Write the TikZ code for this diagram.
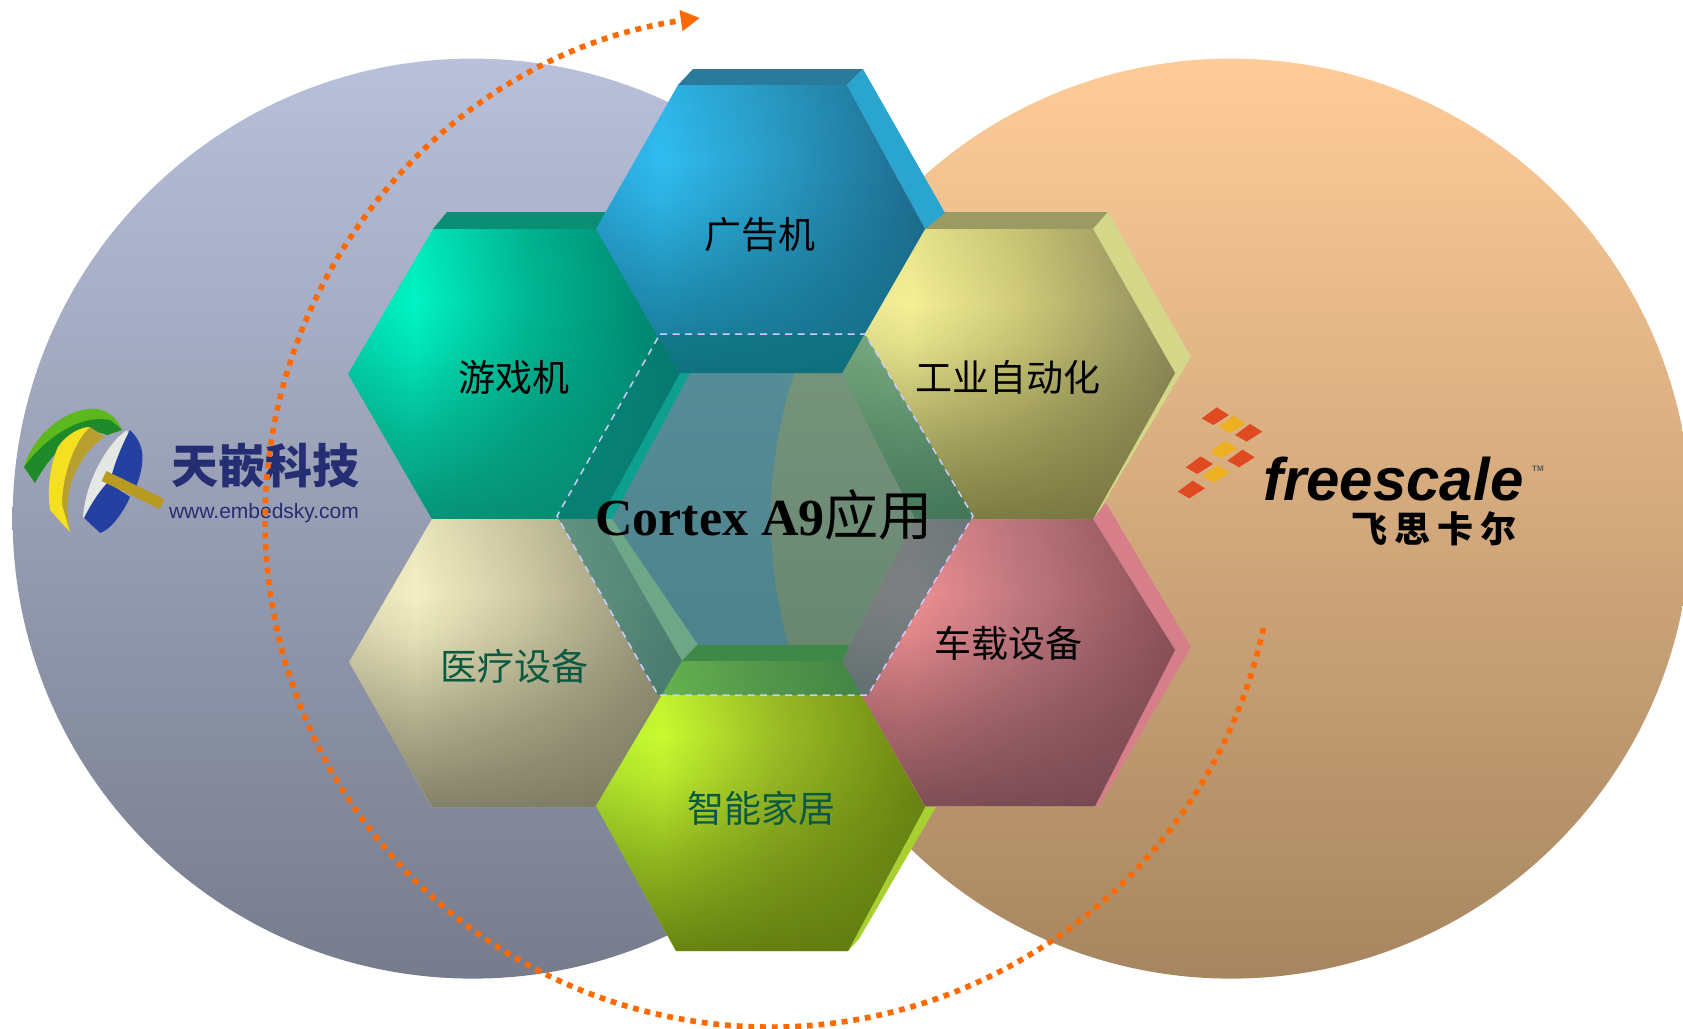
\documentclass[tikz,border=0pt]{standalone}
\usepackage{fontspec}
\usetikzlibrary{arrows.meta,fadings}
\setmainfont{Liberation Serif}
\newfontfamily\cjk{Noto Sans CJK SC}
\newfontfamily\cjkfs[LetterSpace=20]{Noto Sans CJK SC}
\newfontfamily\lsans{Liberation Sans}
\definecolor{hca}{HTML}{000000}\definecolor{hcb}{HTML}{000000}
\definecolor{hcc}{HTML}{000000}\definecolor{hcd}{HTML}{000000}
\pgfdeclarehorizontalshading[hca,hcb,hcc,hcd]{hexh}{100bp}{color(0bp)=(hca);color(25bp)=(hca);color(35bp)=(hcb);color(52bp)=(hcc);color(75bp)=(hcd);color(100bp)=(hcd)}
\pgfdeclareverticalshading{vfs}{100bp}{color(0bp)=(pgftransparent!8);color(25bp)=(pgftransparent!8);color(40bp)=(pgftransparent!45);color(55bp)=(pgftransparent!88);color(62bp)=(pgftransparent!100);color(75bp)=(pgftransparent!90);color(100bp)=(pgftransparent!90)}
\pgfdeclarefading{vfade}{\pgfuseshading{vfs}}
\newcommand{\hexface}[6]{%
  \begingroup
  \definecolor{hca}{HTML}{#2}\definecolor{hcb}{HTML}{#3}%
  \definecolor{hcc}{HTML}{#4}\definecolor{hcd}{HTML}{#5}%
  \definecolor{hbot}{HTML}{#6}%
  \shade[shading=hexh] #1;
  \fill[hbot,path fading=vfade] #1;
  \endgroup}
\definecolor{labelgreen}{HTML}{0A5A42}
\definecolor{dotorange}{HTML}{FF6A00}
\definecolor{fsredc}{HTML}{E04A20}
\definecolor{fsyelc}{HTML}{ECB020}
\definecolor{navy}{HTML}{252E72}
\definecolor{blueTop}{HTML}{B8C0DA}
\definecolor{blueBot}{HTML}{767C8C}
\definecolor{orangetop}{HTML}{FFCC99}
\definecolor{orangebot}{HTML}{A68660}
\definecolor{carband}{HTML}{D67E8A}
\definecolor{gameband}{HTML}{0A8E74}
\definecolor{gameside}{HTML}{10D0B0}
\definecolor{medside}{HTML}{D2DE9F}
\definecolor{indband}{HTML}{9A9A62}
\definecolor{indside}{HTML}{D4D688}
\definecolor{topband}{HTML}{2A7A9C}
\definecolor{topside}{HTML}{2AA5D0}
\definecolor{botband}{HTML}{72A21F}
\definecolor{botside}{HTML}{A8D030}
\definecolor{overlay}{HTML}{0C7271}
\definecolor{dashlav}{HTML}{CCCCFF}
\definecolor{logogreen}{HTML}{5CB81C}
\definecolor{logodkgreen}{HTML}{1E8A2A}
\definecolor{logogold}{HTML}{B8A030}
\definecolor{logoyellow}{HTML}{F4E020}
\definecolor{logoblue}{HTML}{2440A0}
\definecolor{logorope}{HTML}{B89A20}
\definecolor{logowhite}{HTML}{E4E8E4}
\tikzset{
  hexlabel/.style={inner sep=0pt,font=\cjk\fontsize{37}{37}\selectfont,text=black},
  hexlabelgreen/.style={hexlabel,text=labelgreen},
  dotarc/.style={draw=dotorange,line width=5.6pt,dash pattern=on 5.8pt off 5.9pt,
    -{Triangle[length=19pt,width=20pt,fill=dotorange]}},
  fsred/.style={fill=fsredc},
  fsyel/.style={fill=fsyelc},
}
\newcommand{\fsdia}[3]{\fill[#1] (#2-13.3,#3+1.7) -- (#2+1.7,#3-9.3) -- (#2+14,#3-1.7) -- (#2-1.7,#3+8.3) -- cycle;}
\begin{document}
\begin{tikzpicture}[x=1pt,y=-1pt]
\useasboundingbox (0,0) rectangle (1683,1028);
% circles
\coordinate (lc) at (472.6,518.6);
\coordinate (rc) at (1231,518.6);
\shade[top color=blueTop,bottom color=blueBot] (lc) circle[radius=460pt];
\shade[top color=orangetop,bottom color=orangebot] (rc) circle[radius=460pt];
% car
\fill[fill=carband] (1106,503) -- (1191,647) -- (1175,650) -- (1093,519) -- cycle;
\fill[fill=carband] (1191,647) -- (1099,806) -- (1092,806) -- (1175,650) -- cycle;
\hexface{(915,519) -- (1093,519) -- (1175,650) -- (1095,806) -- (925,806) -- (842,661) -- cycle}{E88A8C}{F09092}{C07880}{8C5058}{754850}
% game
\fill[fill=gameband] (447,212) -- (610,212) -- (610,229) -- (433,229) -- cycle;
\fill[fill=gameside] (680,373) -- (690,373) -- (612,519) -- (600,519) -- cycle;
\hexface{(433,229) -- (600,229) -- (680,373) -- (600,519) -- (432,519) -- (348,374) -- cycle}{00D8AE}{00F4C4}{00B894}{007E6A}{088A70}
% medical
\fill[fill=medside] (600,519) -- (612,519) -- (698,645) -- (682,661) -- cycle;
\hexface{(432,519) -- (600,519) -- (682,661) -- (595,807) -- (432,807) -- (349,662) -- cycle}{E0DCB4}{F4F0C4}{CCC8A2}{8E8A70}{7A7860}
% industrial
\fill[fill=indband] (938,212) -- (1108,212) -- (1093,229) -- (923,229) -- cycle;
\fill[fill=indside] (1108,212) -- (1191,357) -- (1175,373) -- (1093,229) -- cycle;
\fill[fill=indside] (1191,357) -- (1099,511) -- (1093,519) -- (1175,373) -- cycle;
\hexface{(923,229) -- (1093,229) -- (1175,373) -- (1093,519) -- (915,519) -- (842,373) -- cycle}{E8E490}{F4F096}{CECA78}{8E8A5C}{74743E}
% top hexagon
\fill[fill=topband] (693,69) -- (863,69) -- (847,85) -- (678,85) -- cycle;
\fill[fill=topside] (863,69) -- (945,213) -- (925,229) -- (847,85) -- cycle;
\hexface{(678,85) -- (847,85) -- (925,229) -- (842,373) -- (679,373) -- (596,229) -- cycle}{2CA8DC}{30BCF0}{2A9CC6}{1E6A8C}{146E88}
% bottom hexagon
\fill[fill=botband] (697,645) -- (850,645) -- (842,661) -- (682,661) -- cycle;
\fill[fill=botside] (925,807) -- (936,807) -- (859,939) -- (848,951) -- cycle;
\hexface{(682,661) -- (842,661) -- (925,807) -- (848,951) -- (676,951) -- (596,806) -- cycle}{B4EC30}{C8FA30}{9CBE26}{6A8612}{5F7A10}
% central translucent hexagon
\coordinate (d1) at (660,334);
\coordinate (d2) at (865,334);
\coordinate (d3) at (973,516);
\coordinate (d4) at (868,695);
\coordinate (d5) at (658,695);
\coordinate (d6) at (557,516);
\fill[fill=overlay,fill opacity=.5] (d1) -- (d2) -- (d3) -- (d4) -- (d5) -- (d6) -- cycle;
\draw[draw=dashlav,line width=1.5pt,dash pattern=on 7pt off 5.5pt] (d1) -- (d2) -- (d3) -- (d4) -- (d5) -- (d6) -- cycle;
% labels
\node[hexlabel] (adv) at (760,235) {广告机};
\node[hexlabel] (game) at (514,378) {游戏机};
\node[hexlabel] (ind) at (1008,377) {工业自动化};
\node[hexlabelgreen] (med) at (514,666) {医疗设备};
\node[hexlabel] (car) at (1008,643) {车载设备};
\node[hexlabelgreen] (home) at (761,808) {智能家居};
\node[inner sep=0pt,anchor=base west,font=\bfseries\fontsize{52}{52}\selectfont] (title) at (595,535) {Cortex A9{\cjk\mdseries\fontsize{54}{54}\selectfont 应用}};
% left logo
\fill[fill=logogreen] (24,467) .. controls (34,432) and (70,406) .. (97,409) .. controls (110,411) and (118,420) .. (122,430) -- (107,435) .. controls (85,424) and (55,445) .. (35,483) -- cycle;
\fill[fill=logodkgreen] (24,467) -- (35,483) .. controls (55,445) and (85,424) .. (107,435) -- (122,430) .. controls (118,426) and (114,423) .. (110,420) .. controls (80,414) and (45,438) .. (24,467) -- cycle;
\fill[fill=logogold] (58,447) .. controls (66,435) and (80,427) .. (90,427) -- (105,437) .. controls (90,445) and (72,470) .. (68,497) .. controls (67,512) and (68,522) .. (70,532) -- (50,510) .. controls (47,490) and (50,465) .. (58,447) -- cycle;
\fill[fill=logoyellow] (58,447) .. controls (66,435) and (80,427) .. (90,427) .. controls (75,440) and (62,475) .. (62,505) -- (70,532) -- (50,510) .. controls (47,490) and (50,465) .. (58,447) -- cycle;
\fill[fill=logowhite] (127,430) .. controls (105,445) and (85,485) .. (83,517) -- (100,533) -- (125,490) -- (130,440) -- cycle;
\fill[fill=logoblue] (130,430) .. controls (140,440) and (144,450) .. (142,465) .. controls (141,472) and (139,480) .. (136,487) -- (112,474) .. controls (116,460) and (122,445) .. (130,430) -- cycle;
\fill[fill=logoblue] (84,518) .. controls (88,510) and (96,495) .. (108,482) -- (130,497) .. controls (122,515) and (110,530) .. (100,533) -- cycle;
\draw[draw=logorope,line width=11pt] (104,476) -- (162,504);
\node[inner sep=0pt,anchor=west,text=navy,font=\cjk\bfseries\fontsize{47}{47}\selectfont] (tq) at (171,466) {天嵌科技};
\node[inner sep=0pt,anchor=center,text=navy,font=\lsans\fontsize{21}{21}\selectfont] (url) at (264,513) {www.embedsky.com};
% right logo
\fsdia{fsred}{1215}{416.7}
\fsdia{fsyel}{1231.7}{425}
\fsdia{fsred}{1248.3}{433.3}
\fsdia{fsyel}{1223.3}{450}
\fsdia{fsred}{1240.7}{459}
\fsdia{fsred}{1199}{465.7}
\fsdia{fsyel}{1215.7}{474.3}
\fsdia{fsred}{1191}{490}
\node[inner sep=0pt,anchor=base west,font=\lsans\bfseries\itshape\fontsize{60}{60}\selectfont] (fs) at (1263,500) {freescale};
\node[inner sep=0pt,text=black!65,font=\lsans\bfseries\fontsize{8}{8}\selectfont] (tm) at (1538,469) {TM};
\node[inner sep=0pt,anchor=west,font=\cjkfs\bfseries\fontsize{36}{36}\selectfont] (fsc) at (1351,529) {飞思卡尔};
% dotted arc
\coordinate (arcstart) at (1263.5,628);
\draw[dotarc] (arcstart) arc[start angle=-12.3,end angle=-262,x radius=505pt,y radius=507pt];
\end{tikzpicture}
\end{document}
